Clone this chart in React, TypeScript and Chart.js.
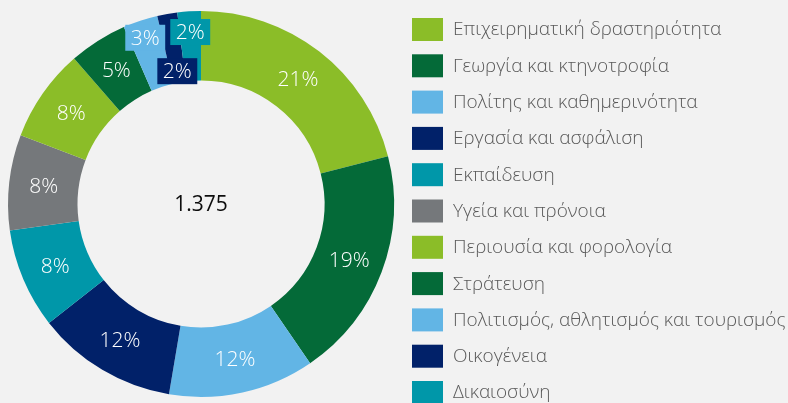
import React, { useEffect, useRef } from "react";
import { Chart, registerables } from "chart.js";

Chart.register(...registerables);

const categories = [
  "Επιχειρηματική δραστηριότητα",
  "Γεωργία και κτηνοτροφία",
  "Πολίτης και καθημερινότητα",
  "Εργασία και ασφάλιση",
  "Εκπαίδευση",
  "Υγεία και πρόνοια",
  "Περιουσία και φορολογία",
  "Στράτευση",
  "Πολιτισμός, αθλητισμός και τουρισμός",
  "Οικογένεια",
  "Δικαιοσύνη",
];

const counts = [289, 267, 168, 162, 115, 110, 107, 67, 40, 23, 27];

const colors = [
  "#8BBD28",
  "#046A38",
  "#62B5E5",
  "#012169",
  "#0097A9",
  "#75787B",
  "#8BBD28",
  "#046A38",
  "#62B5E5",
  "#012169",
  "#0097A9",
];

const FONT = "'Open Sans', 'Noto Sans', sans-serif";

// label nudges for the small slices (pixel offsets from slice middle)
const labelNudge: Record<number, [number, number]> = {
  8: [-6, -16],
  9: [4, 23],
  10: [-1, -14],
};

const sliceLabels = {
  id: "sliceLabels",
  afterDatasetsDraw(chart: any) {
    const ctx = chart.ctx;
    const meta = chart.getDatasetMeta(0);
    const data = chart.data.datasets[0].data as number[];
    const total = data.reduce((a, b) => a + b, 0);
    ctx.save();
    ctx.font = `300 21px ${FONT}`;
    ctx.textAlign = "center";
    ctx.textBaseline = "middle";
    meta.data.forEach((arc: any, i: number) => {
      const { x, y, startAngle, endAngle, innerRadius, outerRadius } = arc.getProps(
        ["x", "y", "startAngle", "endAngle", "innerRadius", "outerRadius"],
        true
      );
      const mid = (startAngle + endAngle) / 2;
      const r = (innerRadius + outerRadius) / 2;
      const nudge = labelNudge[i] || [0, 0];
      const lx = x + Math.cos(mid) * r + nudge[0];
      const ly = y + Math.sin(mid) * r + nudge[1];
      const txt = Math.round((data[i] / total) * 100) + "%";
      const w = ctx.measureText(txt).width + 11;
      const h = 26;
      if (labelNudge[i]) {
        ctx.fillStyle = colors[i];
        ctx.fillRect(lx - w / 2, ly - h / 2, w, h);
      }
      ctx.fillStyle = "#ffffff";
      ctx.fillText(txt, lx, ly + 1);
    });
    // center total
    const total_txt = total.toLocaleString("el-GR");
    const a0: any = meta.data[0];
    ctx.fillStyle = "#0d0d0d";
    ctx.font = `21px ${FONT}`;
    ctx.fillText(total_txt, a0.x, a0.y + 1);
    ctx.restore();
  },
};

const customLegend = {
  id: "customLegend",
  afterDraw(chart: any) {
    const ctx = chart.ctx;
    ctx.save();
    ctx.textAlign = "left";
    ctx.textBaseline = "middle";
    ctx.font = `300 19px ${FONT}`;
    categories.forEach((c, i) => {
      const top = 18 + i * 36.3;
      ctx.fillStyle = colors[i];
      ctx.fillRect(412, top, 31, 23);
      ctx.fillStyle = "#595959";
      ctx.fillText(c, 453, top + 12);
    });
    ctx.restore();
  },
};

const bgPlugin = {
  id: "bg",
  beforeDraw(chart: any) {
    const ctx = chart.ctx;
    ctx.save();
    ctx.fillStyle = "#f2f2f2";
    ctx.fillRect(0, 0, chart.width, chart.height);
    ctx.restore();
  },
};

export default function App() {
  const ref = useRef<HTMLCanvasElement>(null);
  useEffect(() => {
    document.body.style.margin = "0";
    document.body.style.background = "#f2f2f2";
    const chart = new Chart(ref.current!, {
      type: "doughnut",
      data: {
        labels: categories,
        datasets: [
          {
            data: counts,
            backgroundColor: colors,
            borderWidth: 0,
          },
        ],
      },
      options: {
        animation: false,
        responsive: false,
        cutout: "64%",
        layout: { padding: { left: 8, top: 11, right: 394, bottom: 6 } },
        plugins: {
          legend: { display: false },
          tooltip: { enabled: false },
        },
      },
      plugins: [bgPlugin, sliceLabels, customLegend],
    });
    return () => chart.destroy();
  }, []);
  return (
    <div style={{ width: 788, height: 403 }}>
      <canvas ref={ref} width={788} height={403} style={{ display: "block" }} />
    </div>
  );
}
